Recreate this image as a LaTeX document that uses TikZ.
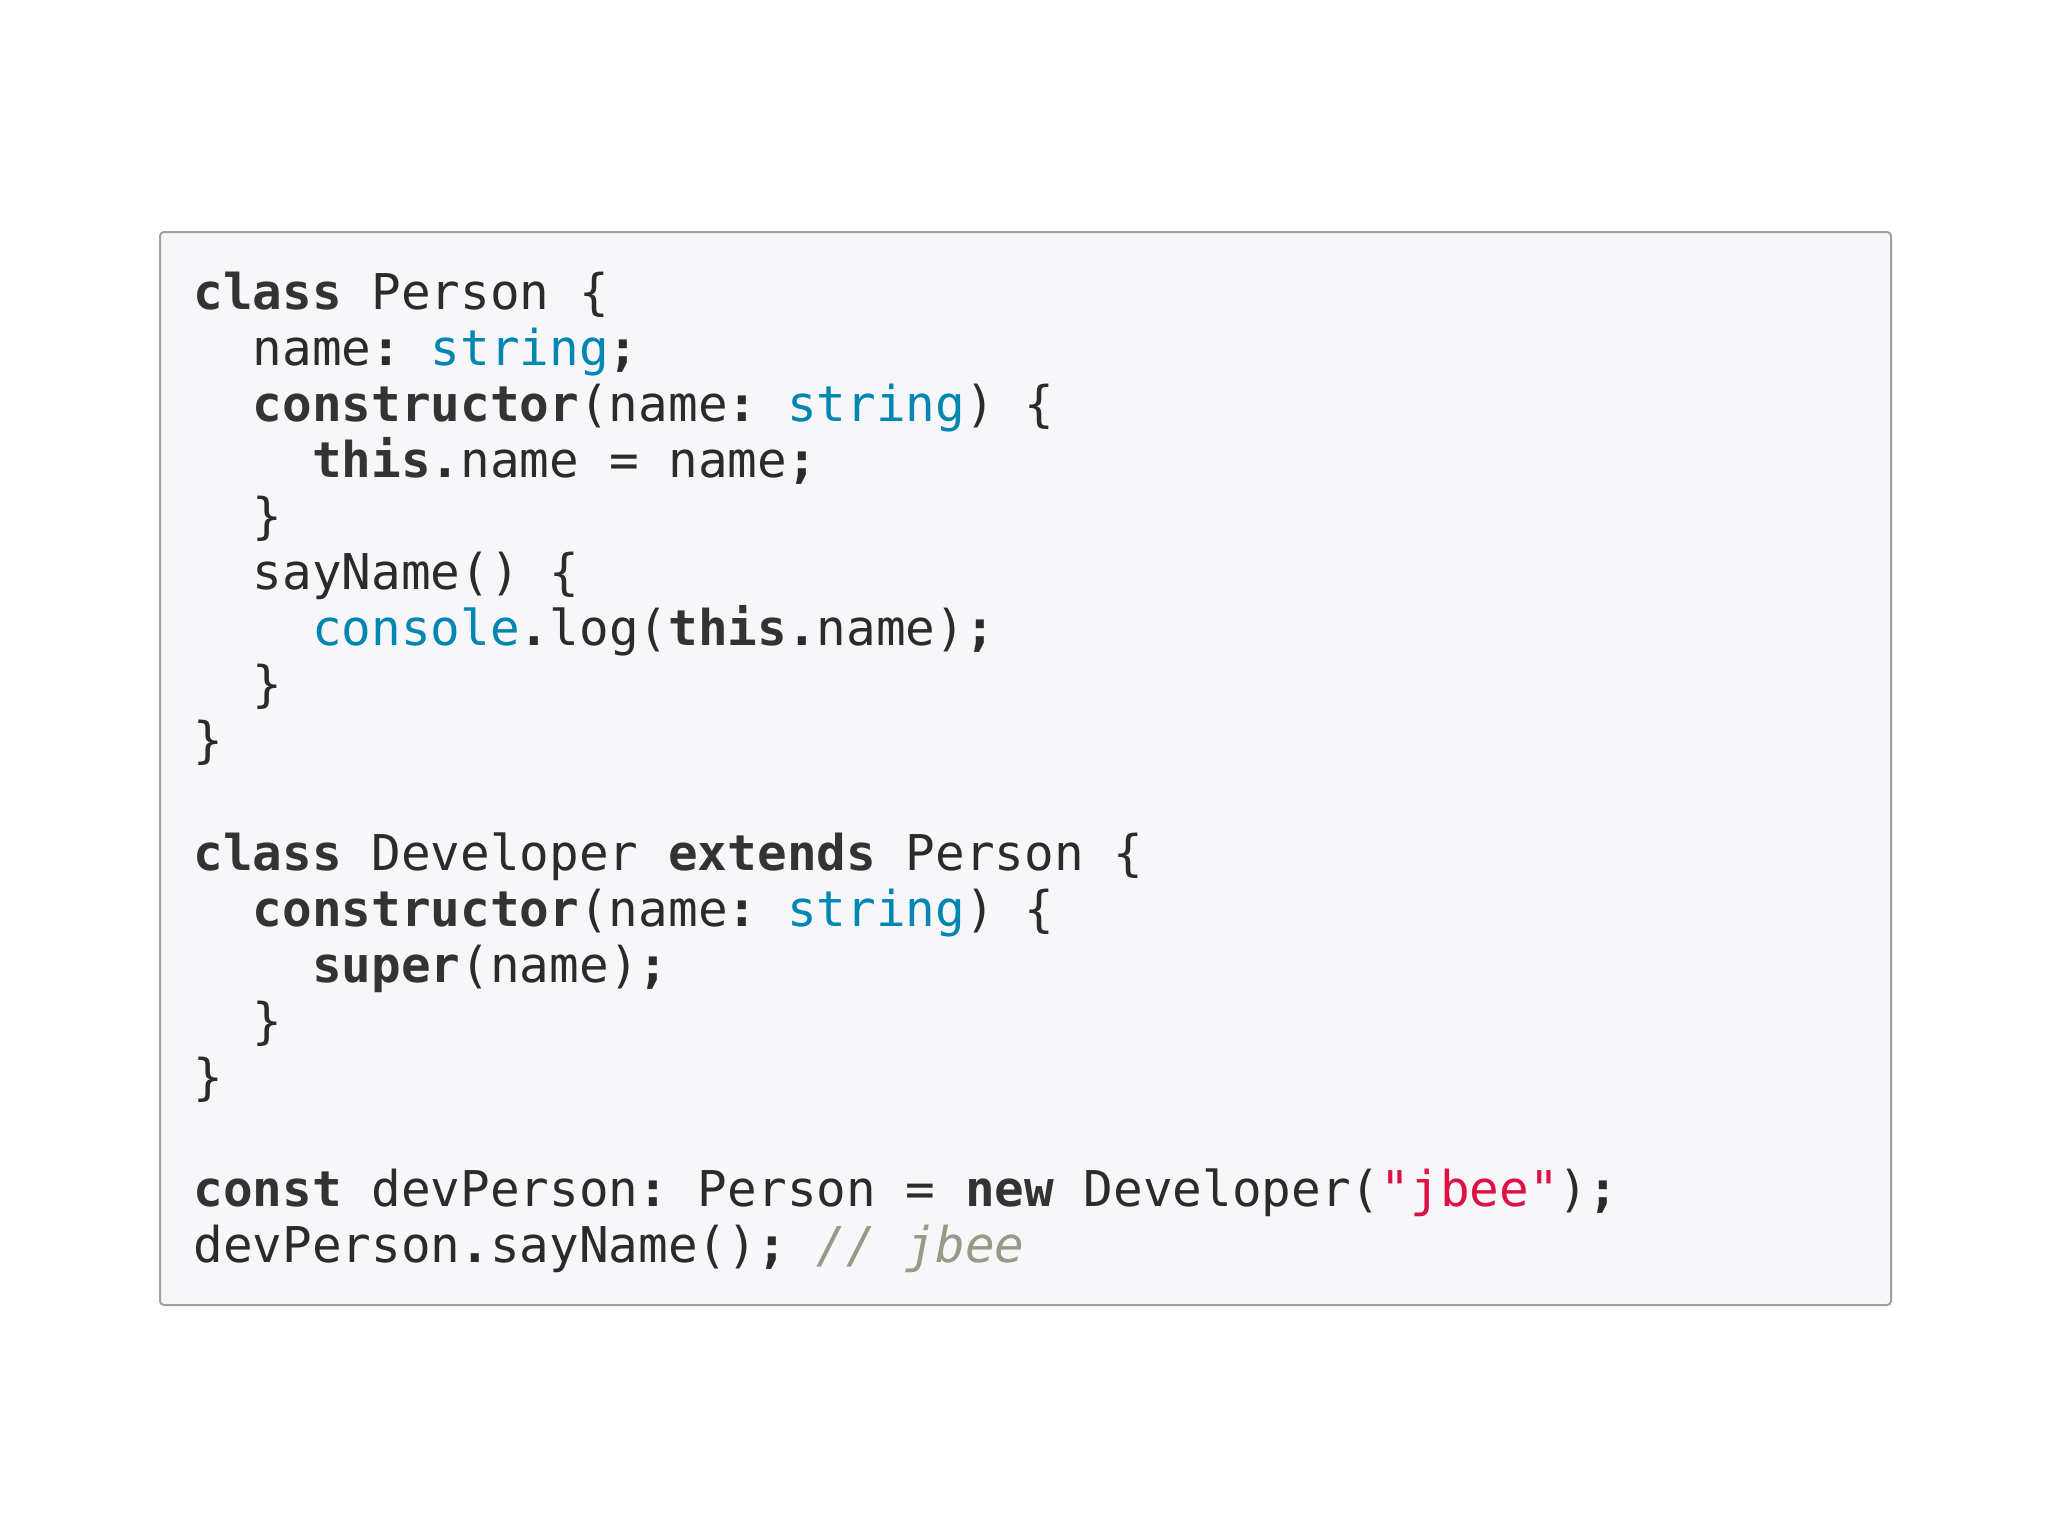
\documentclass[tikz,border=0pt]{standalone}
\usepackage{fontspec}
\setmonofont{DejaVu Sans Mono}
\definecolor{codetext}{HTML}{2B2B2B}
\definecolor{codekw}{HTML}{333333}
\definecolor{codetype}{HTML}{0086B3}
\definecolor{codestr}{HTML}{DD1144}
\definecolor{codecmt}{HTML}{999988}
\definecolor{codebg}{HTML}{F7F7F9}
\definecolor{codeborder}{HTML}{A0A0A0}
\newcommand{\kw}[1]{\textcolor{codekw}{\bfseries #1}}
\newcommand{\ty}[1]{\textcolor{codetype}{#1}}
\newcommand{\strg}[1]{\textcolor{codestr}{#1}}
\newcommand{\cmt}[1]{\textcolor{codecmt}{\itshape #1}}
\newcommand{\pdot}{\textbf{.}}
\newcommand{\psemi}{\textbf{;}}
\newcommand{\pcolon}{\textbf{:}}
\frenchspacing
\begin{document}
\begin{tikzpicture}[x=0.5pt,y=-0.5pt,
  codeline/.style={anchor=base west, inner sep=0pt,
    font=\ttfamily\fontsize{24.65pt}{28pt}\selectfont, text=codetext},
  codebox/.style={draw=codeborder, fill=codebg, line width=1pt,
    rounded corners=2pt, inner sep=0pt, anchor=north west,
    minimum width=865.5pt, minimum height=536.5pt}]
\useasboundingbox (0,0) rectangle (2048,1538);
\fill[white] (0,0) rectangle (2048,1538);
\node[codebox] (box) at (159,231) {};
\def\xa{193}
\def\xb{252.4}
\def\xc{311.8}
\def\dy{56.1}
\node[codeline] (l1)  at (\xa,{309+0*\dy})  {\kw{class} Person \{};
\node[codeline] (l2)  at (\xb,{309+1*\dy})  {name\pcolon{} \ty{string}\psemi};
\node[codeline] (l3)  at (\xb,{309+2*\dy})  {\kw{constructor}(name\pcolon{} \ty{string}) \{};
\node[codeline] (l4)  at (\xc,{309+3*\dy})  {\kw{this}\pdot{}name = name\psemi};
\node[codeline] (l5)  at (\xb,{309+4*\dy})  {\}};
\node[codeline] (l6)  at (\xb,{309+5*\dy})  {sayName() \{};
\node[codeline] (l7)  at (\xc,{309+6*\dy})  {\ty{console}\pdot{}log(\kw{this}\pdot{}name)\psemi};
\node[codeline] (l8)  at (\xb,{309+7*\dy})  {\}};
\node[codeline] (l9)  at (\xa,{309+8*\dy})  {\}};
\node[codeline] (l11) at (\xa,{309+10*\dy}) {\kw{class} Developer \kw{extends} Person \{};
\node[codeline] (l12) at (\xb,{309+11*\dy}) {\kw{constructor}(name\pcolon{} \ty{string}) \{};
\node[codeline] (l13) at (\xc,{309+12*\dy}) {\kw{super}(name)\psemi};
\node[codeline] (l14) at (\xb,{309+13*\dy}) {\}};
\node[codeline] (l15) at (\xa,{309+14*\dy}) {\}};
\node[codeline] (l17) at (\xa,{309+16*\dy}) {\kw{const} devPerson\pcolon{} Person = \kw{new} Developer(\strg{"jbee"})\psemi};
\node[codeline] (l18) at (\xa,{309+17*\dy}) {devPerson\pdot{}sayName()\psemi{} \cmt{// jbee}};
\end{tikzpicture}
\end{document}
